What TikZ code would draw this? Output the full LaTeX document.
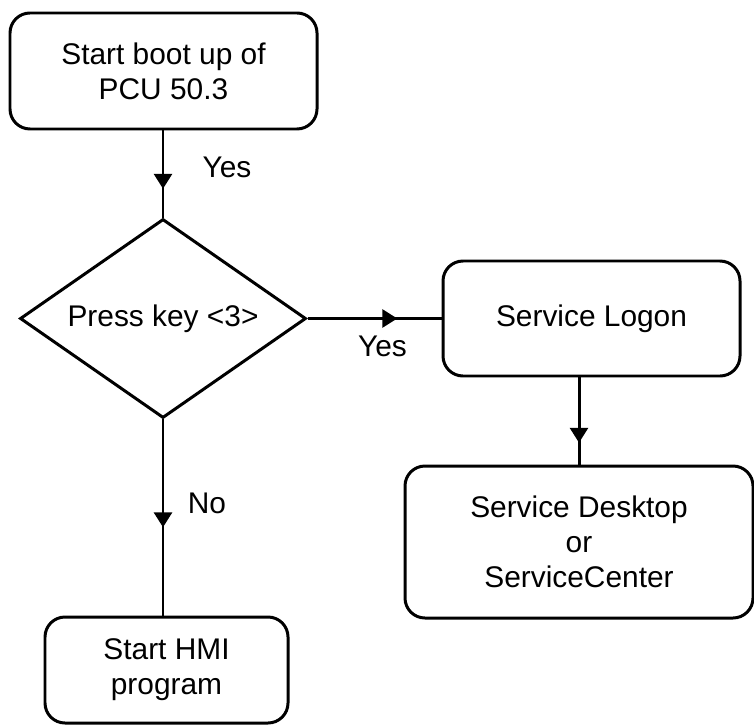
\documentclass[tikz,border=0pt]{standalone}
\usepackage{fontspec}
\setmainfont{Liberation Sans}
\usetikzlibrary{arrows.meta, shapes.geometric, decorations.markings}

\begin{document}
\begin{tikzpicture}[
    stepbox/.style={draw, rounded corners=0.4cm, line width=1.7pt, align=center,
                    minimum width=#1, inner sep=0pt},
    query/.style={draw, diamond, aspect=1.43, line width=1.7pt, inner sep=0pt,
                  minimum width=5.72cm, minimum height=3.98cm},
    flow/.style={line width=1.7pt, postaction={decorate},
                 decoration={markings, mark=at position #1 with {\arrow{Triangle[length=0.3cm, width=0.36cm]}}}},
    lbl/.style={font=\fontsize{17pt}{20pt}\selectfont},
    font=\fontsize{17pt}{20pt}\selectfont
  ]

  \useasboundingbox (0,0) rectangle (15.08,14.54);

  \node[stepbox=6.14cm, minimum height=2.32cm] (boot) at (3.27, 13.12) {Start boot up of\\PCU 50.3};
  \node[query] (key) at (3.26, 8.17) {Press key <3>};
  \node[stepbox=5.94cm, minimum height=2.3cm] (logon) at (11.83, 8.17) {Service Logon};
  \node[stepbox=6.96cm, minimum height=3.04cm] (desk) at (11.58, 3.70) {Service Desktop\\or\\ServiceCenter};
  \node[stepbox=4.86cm, minimum height=2.12cm] (hmi) at (3.33, 1.14) {Start HMI\\program};

  \draw[flow=0.67] (key.north |- boot.south) -- (key.north)
    node[lbl, pos=0.42, xshift=1.28cm] (yes1) {Yes};
  \draw[flow=0.67] (key.east) -- (logon.west)
    node[lbl, pos=0.56, yshift=-0.56cm] (yes2) {Yes};
  \draw[flow=0.75] (desk.north |- logon.south) -- (desk.north);
  \draw[flow=0.55] (key.south) -- (key.south |- hmi.north)
    node[lbl, pos=0.43, xshift=0.88cm] (no) {No};

\end{tikzpicture}
\end{document}
